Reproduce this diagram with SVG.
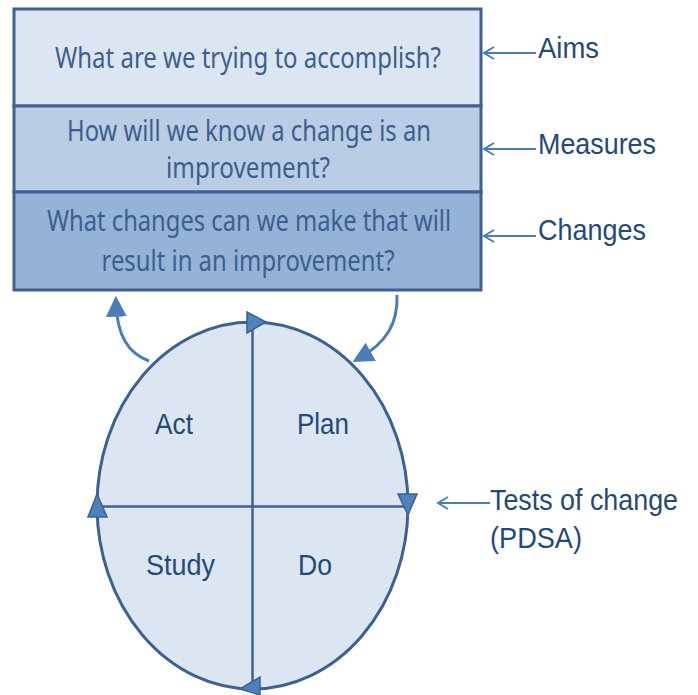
<svg xmlns="http://www.w3.org/2000/svg" width="698" height="695" viewBox="0 0 698 695">
<defs>
<style>
.box{stroke:#3d6292;stroke-width:3}
.q{font-family:"Noto Sans","Open Sans",sans-serif;font-size:29.5px;fill:#3b5f8f;text-anchor:middle}
.lbl{font-family:"Liberation Sans",Arial,sans-serif;font-size:29.5px;fill:#23497a}
.ptr{stroke:#4a7ebb;stroke-width:2;fill:none}
.tri{fill:#4f81bd;stroke:#3d6292;stroke-width:1.5}
.cur{stroke:#4a7ebb;stroke-width:3;fill:none}
</style>
<marker id="head" viewBox="0 0 10 10" refX="7" refY="5" markerWidth="7" markerHeight="7" orient="auto" markerUnits="strokeWidth">
<path d="M0,0 L10,5 L0,10 Z" fill="#4a7ebb"/>
</marker>
</defs>
<rect width="698" height="695" fill="#ffffff"/>
<g id="aims-box">
<rect class="box" x="14" y="9" width="467" height="97" fill="#dce6f2"/>
<text class="q" x="248" y="68" textLength="386" lengthAdjust="spacingAndGlyphs">What are we trying to accomplish?</text>
</g>
<g id="measures-box">
<rect class="box" x="14" y="106" width="467" height="86" fill="#b9cde4"/>
<text class="q" x="249" y="141" textLength="364" lengthAdjust="spacingAndGlyphs">How will we know a change is an</text>
<text class="q" x="248" y="178" textLength="164" lengthAdjust="spacingAndGlyphs">improvement?</text>
</g>
<g id="changes-box">
<rect class="box" x="14" y="192" width="467" height="98" fill="#95b3d7"/>
<text class="q" x="249" y="231" textLength="404" lengthAdjust="spacingAndGlyphs">What changes can we make that will</text>
<text class="q" x="248" y="271" textLength="293" lengthAdjust="spacingAndGlyphs">result in an improvement?</text>
</g>
<g id="pdsa-cycle">
<ellipse cx="252.5" cy="505.5" rx="155.5" ry="183.5" fill="#dce6f2" stroke="#3d6292" stroke-width="3"/>
<line x1="252.5" y1="322" x2="252.5" y2="689" stroke="#3d6292" stroke-width="2.5"/>
<line x1="97" y1="506.5" x2="408" y2="506.5" stroke="#3d6292" stroke-width="2.5"/>
<polygon class="tri" points="247,312 266,322 247,333"/>
<polygon class="tri" points="398,494 417,494 408,515"/>
<polygon class="tri" points="88,517 107,517 97,494"/>
<polygon class="tri" points="240,689 260,677 260,695"/>
</g>
<g id="act"><text class="lbl" x="174" y="434" text-anchor="middle" textLength="38" lengthAdjust="spacingAndGlyphs">Act</text></g>
<g id="plan"><text class="lbl" x="323" y="434" text-anchor="middle" textLength="52" lengthAdjust="spacingAndGlyphs">Plan</text></g>
<g id="study"><text class="lbl" x="180.5" y="575" text-anchor="middle" textLength="69" lengthAdjust="spacingAndGlyphs">Study</text></g>
<g id="do"><text class="lbl" x="315" y="575" text-anchor="middle" textLength="34" lengthAdjust="spacingAndGlyphs">Do</text></g>
<g id="label-aims"><text class="lbl" x="538" y="58" textLength="61" lengthAdjust="spacingAndGlyphs">Aims</text></g>
<g id="label-measures"><text class="lbl" x="538" y="154" textLength="118" lengthAdjust="spacingAndGlyphs">Measures</text></g>
<g id="label-changes"><text class="lbl" x="538" y="240" textLength="108" lengthAdjust="spacingAndGlyphs">Changes</text></g>
<g id="label-tests">
<text class="lbl" x="490" y="510" textLength="188" lengthAdjust="spacingAndGlyphs">Tests of change</text>
<text class="lbl" x="490" y="548" textLength="92" lengthAdjust="spacingAndGlyphs">(PDSA)</text>
</g>
<g id="connectors">
<path class="ptr" d="M536,53 H484 M494,47 L484,53 L494,59"/>
<path class="ptr" d="M536,149 H484 M494,143 L484,149 L494,155"/>
<path class="ptr" d="M536,236 H484 M494,230 L484,236 L494,242"/>
<path class="ptr" d="M490,503 H438 M448,497 L438,503 L448,509"/>
<path class="cur" d="M149,361 C128,353 117,336 116,302" marker-end="url(#head)"/>
<path class="cur" d="M397,295 C398,322 388,342 358,359" marker-end="url(#head)"/>
</g>
</svg>
